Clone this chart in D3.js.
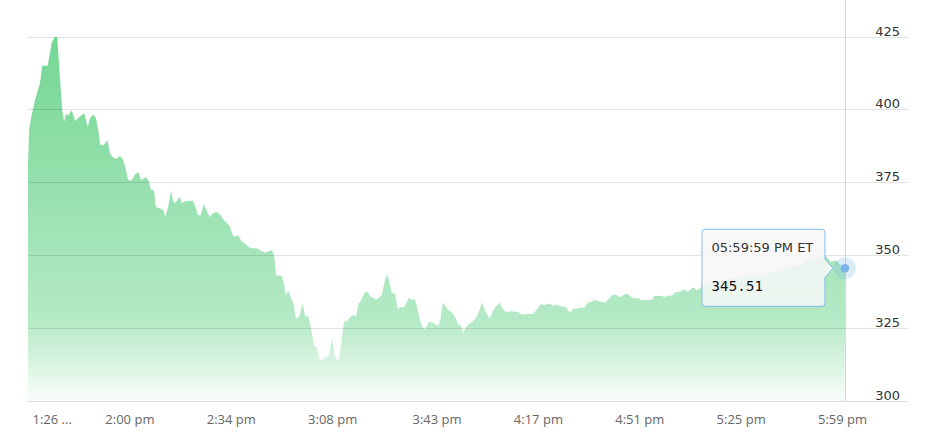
<!DOCTYPE html>
<html><head><meta charset="utf-8">
<script src="https://cdn.jsdelivr.net/npm/d3@7"></script>
<style>html,body{margin:0;padding:0;background:#fff;}svg{display:block;}</style>
</head><body>
<svg id="chart" width="926" height="446"></svg>
<script>
// minutes after 1:26 pm (session start shown on the axis)
const minutesAfterStart = [
0,0.4,1.0,2.3,4.0,4.8,6.6,8.0,9.0,9.8,
10.7,11.5,12.1,12.7,13.5,14.7,15.8,17.4,18.9,20.0,
20.8,21.9,22.8,23.6,24.2,25.3,26.7,27.5,28.3,29.8,
30.6,31.5,32.5,33.6,34.8,35.9,37.0,37.9,39.5,40.4,
41.3,42.3,42.9,44.3,45.4,46.0,47.1,48.0,48.7,49.3,
50.1,51.0,51.6,52.7,54.0,55.4,56.0,57.1,57.9,59.0,
59.9,61.0,61.9,63.1,64.4,65.5,66.6,67.6,68.7,69.4,
70.5,71.7,72.8,74.2,75.6,76.7,77.8,79.5,81.2,81.9,
82.6,83.2,84.3,85.1,85.9,86.5,87.3,88.1,89.0,89.9,
91.0,92.1,92.9,94.0,94.9,96.0,96.8,97.7,98.5,99.6,
100.7,102.1,102.7,103.5,104.3,105.2,106.0,106.9,108.0,109.1,
110.0,110.8,111.6,113.0,113.9,114.7,115.6,116.7,117.8,118.6,
119.5,120.3,121.1,122.0,123.1,124.0,124.8,125.9,126.8,127.8,
128.7,129.8,130.7,131.5,132.4,133.1,134.3,135.5,136.5,137.6,
138.4,139.1,140.2,141.3,142.4,143.5,144.1,145.1,146.0,146.9,
148.0,149.1,150.5,151.4,152.2,152.9,153.8,154.9,155.9,157.0,
158.1,158.9,160.0,161.1,162.2,163.3,164.4,165.0,166.1,167.7,
169.5,170.6,171.9,173.4,174.8,176.2,177.3,178.4,180.1,181.0,
181.8,182.9,184.0,185.1,186.6,187.7,188.8,189.9,191.1,192.2,
193.5,194.6,195.8,196.6,197.5,198.5,199.6,200.8,201.9,203.0,
204.5,205.8,207.5,209.2,210.0,211.4,212.5,213.6,214.5,215.9,
217.0,218.1,219.2,220.3,221.2,222.4,223.1,224.3,225.4,225.9,
228.6,231.9,235.3,238.6,242.0,245.4,248.7,252.1,255.4,258.8,
262.1,265.5,267.5,269.2,270.9,272.2,273.98
];
const prices = [
381.5,393,397,403,409,415,415,423,424.8,424.8,
411,399.7,395.7,398.3,398,399.7,396,397.6,398.7,394,
397,398.3,397,392.8,388,387.7,389.4,385,383.7,383,
384,383.5,380.8,375.7,375.7,377.7,378.5,375.7,376.8,375.7,
372.3,372.3,366.5,366,365.4,363,367,372.3,368.3,367.8,
369,370,367.8,368.5,368.6,368.6,367,363.7,363.7,367.5,
365.4,363,364.3,364.8,364,362.3,361,360,356.8,356.3,
356.8,354.6,354,352.6,352.4,352.4,351.7,350.8,351.5,351.7,
349.4,343,343,343,339.7,336.3,338,335.7,333.4,328.3,
329.1,333.4,329.1,329.1,325.2,318.6,318.4,314.6,313.8,315.2,
315.2,321.5,316.3,314.4,313.8,320.9,327.5,327.2,328.7,329.5,
328.9,333.4,334.3,337.4,337.4,336,335.5,334.8,335.5,336.3,
340.3,343.4,341.4,336.9,336.9,331.5,332.3,332,333.4,335.5,
334.6,334.9,331.2,327.7,325.4,324.5,327,327,326.4,325.8,
328.3,333.8,332.3,330.9,330.2,328.3,326.4,326,323.4,325.4,
326.6,327.2,328.9,331.2,333.8,332.1,330,328.3,330.9,332.5,
333.8,332.1,330.6,330.6,330.9,330.5,330.6,330,329.7,329.8,
329.8,331.4,333.2,332.9,333.4,332.7,333.1,332.5,332.3,331.4,
330.2,331.7,331.6,332,332.1,333.7,334,334.6,334.3,334,
333.8,334.8,336.3,336.5,336.2,335.7,336.3,336.9,336,335.2,
335.3,334.6,334.6,334.6,336,336.1,336,335.7,336.2,336.1,
337.2,337.4,337.8,338.3,337.4,338.4,338.9,338,338.6,339.7,
340.3,340.8,341.9,342.2,343.1,343,344,344.6,346,346.8,
348.4,349.3,349.8,347.7,348.3,347,345.51
];
const yTicks = [300, 325, 350, 375, 400, 425];
const xTickTimes = ["13:26","14:00","14:34","15:08","15:43","16:17","16:51","17:25","17:59"];
const xTickLabels = ["1:26 ...","2:00 pm","2:34 pm","3:08 pm","3:43 pm","4:17 pm","4:51 pm","5:25 pm","5:59 pm"];
const tooltipTime = "05:59:59 PM ET";
const tooltipValue = "345.51";

const svg = d3.select("#chart");
const start = new Date(2020, 0, 1, 13, 26, 0);
const end = new Date(2020, 0, 1, 18, 0, 0);
const parseT = d3.timeParse("%H:%M");
const toDate = s => { const d = parseT(s); return new Date(2020,0,1,d.getHours(),d.getMinutes(),0); };

const data = minutesAfterStart.map((m, i) => ({ t: new Date(start.getTime() + m * 60000), v: prices[i] }));

const x = d3.scaleTime().domain([start, end]).range([28, 845]);
const y = d3.scaleLinear().domain([300, 425]).range([401, 36.5]);

// gradient
const defs = svg.append("defs");
const grad = defs.append("linearGradient").attr("id", "areaGrad")
  .attr("gradientUnits", "userSpaceOnUse").attr("x1", 0).attr("x2", 0)
  .attr("y1", y(425)).attr("y2", y(300));
grad.append("stop").attr("offset", 0).attr("stop-color", "rgb(100,210,135)").attr("stop-opacity", 0.9);
grad.append("stop").attr("offset", 0.78).attr("stop-color", "rgb(100,210,135)").attr("stop-opacity", 0.48);
grad.append("stop").attr("offset", 1).attr("stop-color", "rgb(100,210,135)").attr("stop-opacity", 0.03);

// area
const area = d3.area().x(d => x(d.t)).y0(y(300)).y1(d => y(d.v)).curve(d3.curveLinear);
svg.append("path").datum(data).attr("d", area).attr("fill", "url(#areaGrad)");

// grid lines
svg.append("g").selectAll("line").data(yTicks).join("line")
  .attr("x1", 28).attr("x2", 908)
  .attr("y1", d => Math.round(y(d)) + 0.5).attr("y2", d => Math.round(y(d)) + 0.5)
  .attr("stroke", d => d === 300 ? "#dcdcdc" : "rgba(0,0,0,0.11)").attr("stroke-width", 1);

// right axis labels
svg.append("g").selectAll("text").data(yTicks).join("text")
  .attr("x", 900).attr("y", d => Math.round(y(d)) - 1)
  .attr("text-anchor", "end")
  .attr("font-family", "'DejaVu Sans', Verdana, sans-serif").attr("font-size", 13)
  .attr("fill", "#333").text(d => d);

// bottom axis labels
const xAxisG = svg.append("g").attr("transform", "translate(0,401)");
const xAxis = d3.axisBottom(x).tickValues(xTickTimes.map(toDate))
  .tickFormat((d, i) => xTickLabels[i]).tickSize(0).tickPadding(14);
xAxisG.call(xAxis);
xAxisG.select(".domain").remove();
xAxisG.selectAll("text").attr("font-family", "'Open Sans', 'Noto Sans', sans-serif")
  .attr("font-size", 13).attr("fill", "#666");
xAxisG.selectAll(".tick").filter((d, i) => i === 0).select("text")
  .attr("text-anchor", "start").attr("x", 4);

// crosshair
const last = data[data.length - 1];
const px = x(last.t), py = y(last.v);
svg.append("line").attr("x1", Math.round(px) + 0.5).attr("x2", Math.round(px) + 0.5)
  .attr("y1", 0).attr("y2", y(300)).attr("stroke", "#d6d6d6").attr("stroke-width", 1);

// marker
svg.append("circle").attr("cx", px).attr("cy", py).attr("r", 11).attr("fill", "rgba(124,181,236,0.25)");
svg.append("circle").attr("cx", px).attr("cy", py).attr("r", 4.3).attr("fill", "#7cb5ec");

// tooltip
const bx = px - 143, by = py - 39, bw = 123, bh = 77, r = 3;
const tipPath = `M${bx + r},${by} H${bx + bw - r} Q${bx + bw},${by} ${bx + bw},${by + r}
 V${py - 9.5} L${px - 12},${py} L${bx + bw},${py + 9.5}
 V${by + bh - r} Q${bx + bw},${by + bh} ${bx + bw - r},${by + bh}
 H${bx + r} Q${bx},${by + bh} ${bx},${by + bh - r} V${by + r} Q${bx},${by} ${bx + r},${by} Z`;
svg.append("path").attr("d", tipPath).attr("fill", "rgba(247,247,247,0.86)")
  .attr("stroke", "#86baed").attr("stroke-width", 1);
svg.append("text").attr("x", bx + 9.5).attr("y", by + 23)
  .attr("font-family", "'DejaVu Sans', Verdana, sans-serif").attr("font-size", 13)
  .attr("fill", "#333").text(tooltipTime);
svg.append("text").attr("x", bx + 9.5).attr("y", by + 62)
  .attr("font-family", "'DejaVu Sans Mono', monospace").attr("font-size", 14)
  .attr("letter-spacing", 0.2)
  .attr("fill", "#111").text(tooltipValue);
</script>
</body></html>
